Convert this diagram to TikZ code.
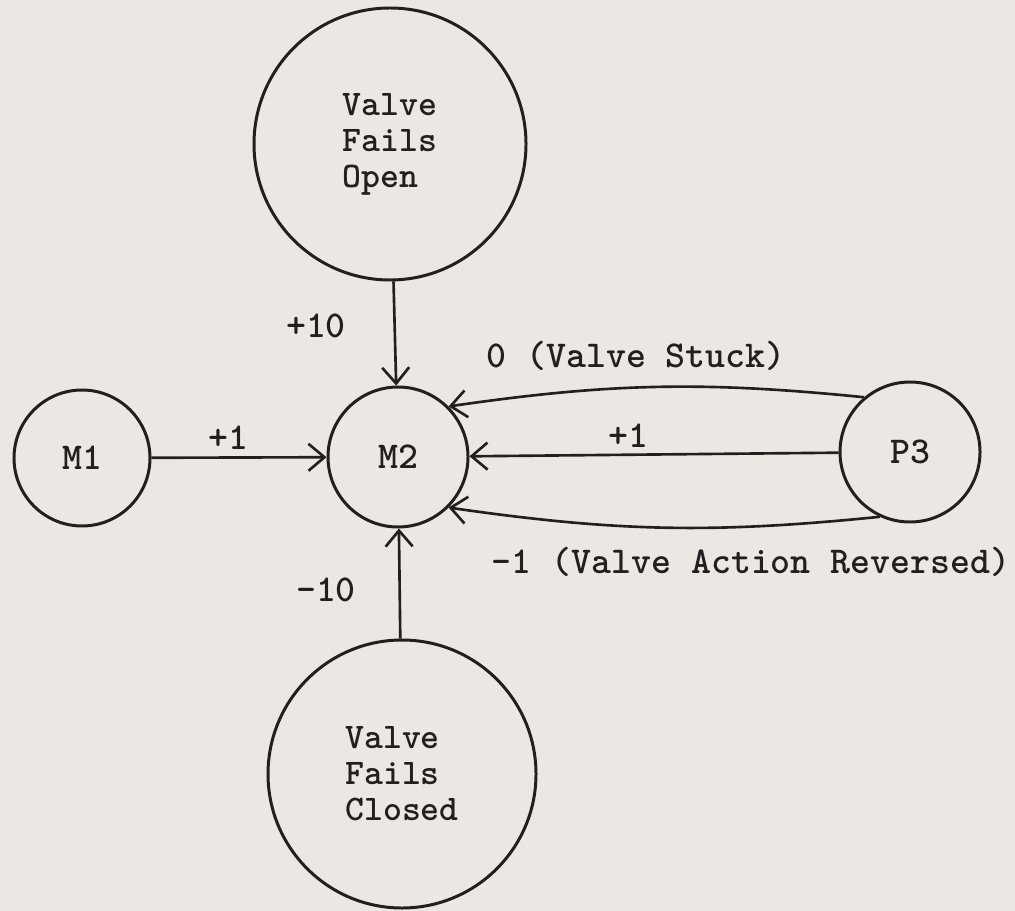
\documentclass[tikz,border=0pt]{standalone}
\usepackage{tikz}
\usetikzlibrary{arrows.meta}
\definecolor{paper}{RGB}{235,231,227}
\definecolor{ink}{RGB}{36,30,30}

\begin{document}
\begin{tikzpicture}[x=0.2mm,y=-0.2mm,
  every node/.style={font=\fontsize{21.6}{21.6}\selectfont\ttfamily\bfseries,text=ink},
  >={Straight Barb[length=3.2mm,width=5.4mm,line width=1.5pt]},
  state/.style={draw=ink,circle,line width=1.7pt,inner sep=0pt,align=left},
  big/.style={state,font=\fontsize{20.5}{20.5}\selectfont\ttfamily\bfseries},
  link/.style={->,draw=ink,line width=1.5pt}]
  % paper
  \fill[paper] (0,0) rectangle (1015,911);
  \useasboundingbox (0,0) rectangle (1015,911);

  \node[big,minimum size=54.4mm] (open) at (390,144) {Valve\\Fails\\Open};
  \node[state,minimum size=28mm] (m2) at (398,457) {M2};
  \node[state,minimum size=27.2mm] (m1) at (82,458) {M1};
  \node[state,minimum size=28mm] (p3) at (910,452) {P3};
  \node[big,minimum size=53.6mm] (closed) at (402,774) {Valve\\Fails\\Closed};

  \draw[link] (open) -- (m2);
  \draw[link] (m1) -- (m2);
  \draw[link] (p3.130) to[bend right=7] (m2.45);
  \draw[link] (p3) -- (m2);
  \draw[link] (p3.-115) to[bend left=7] (m2.-45);
  \draw[link] (closed) -- (m2);

  % weights
  \node at (316,326) {+10};
  \node at (228,438) {+1};
  \node at (636,356) {0 (Valve Stuck)};
  \node at (628,436) {+1};
  \node at (751,562) {-1 (Valve Action Reversed)};
  \node at (326,590) {-10};
\end{tikzpicture}
\end{document}
